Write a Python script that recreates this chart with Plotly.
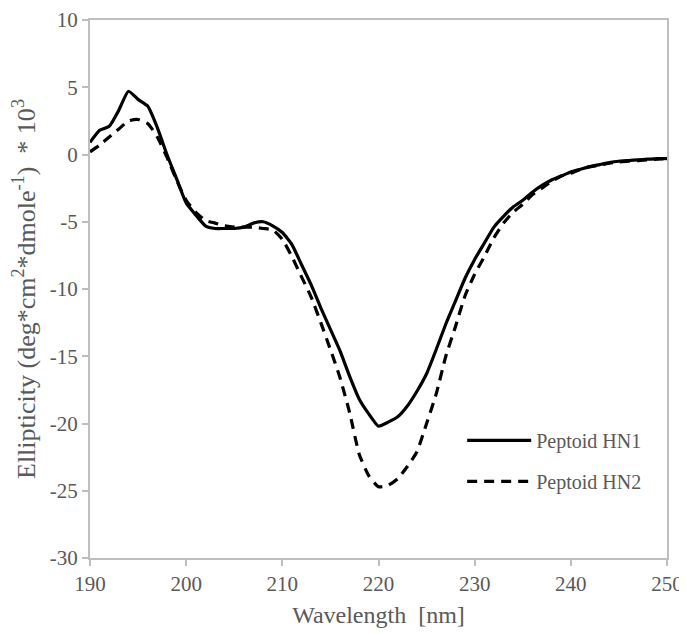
import plotly.graph_objects as go

wavelength = list(range(190, 251))

hn1 = [0.9, 1.8, 2.1, 3.3, 4.7, 4.1, 3.6, 2.0, 0.0, -1.8,
       -3.6, -4.5, -5.3, -5.5, -5.5, -5.5, -5.4, -5.1, -5.0, -5.3,
       -5.8, -6.7, -8.2, -9.7, -11.4, -13.0, -14.6, -16.5, -18.2, -19.3,
       -20.2, -19.9, -19.5, -18.7, -17.6, -16.3, -14.5, -12.6, -10.9, -9.2,
       -7.8, -6.6, -5.4, -4.6, -3.9, -3.4, -2.8, -2.3, -1.9, -1.6,
       -1.3, -1.1, -0.9, -0.75, -0.6, -0.5, -0.45, -0.4, -0.35, -0.3,
       -0.3]

hn2 = [0.2, 0.7, 1.3, 1.9, 2.5, 2.6, 2.3, 1.3, -0.2, -1.9,
       -3.4, -4.3, -4.9, -5.1, -5.3, -5.4, -5.4, -5.4, -5.5, -5.6,
       -6.3, -7.6, -9.1, -10.6, -12.5, -14.5, -16.6, -19.2, -22.3, -23.9,
       -24.7, -24.6, -24.1, -23.2, -22.1, -20.0, -17.8, -15.0, -12.8, -10.5,
       -8.9, -7.6, -6.2, -5.1, -4.3, -3.7, -3.0, -2.5, -2.0, -1.6,
       -1.4, -1.1, -0.9, -0.8, -0.65, -0.55, -0.5, -0.45, -0.4, -0.35,
       -0.3]

series_names = ["Peptoid HN1", "Peptoid HN2"]

x_ticks = [190, 200, 210, 220, 230, 240, 250]
y_ticks = [10, 5, 0, -5, -10, -15, -20, -25, -30]
y_tick_labels = ["10", "5", "0", "-5", "-10", "-15", "-20", "-25", "-30"]

FONT = "Liberation Serif, Times New Roman, serif"
GRAY = "#595959"
AXIS = "#bfbfbf"

fig = go.Figure()
fig.add_trace(go.Scatter(x=wavelength, y=hn1, mode="lines", name=series_names[0],
                         legendgroup="g1",
                         line=dict(color="black", width=3.2, shape="spline", smoothing=0.5)))
fig.add_trace(go.Scatter(x=wavelength, y=hn2, mode="lines", name=series_names[1],
                         legendgroup="g2",
                         line=dict(color="black", width=3.2, dash="10px,7px", shape="spline", smoothing=0.5)))

fig.update_layout(
    width=679, height=626,
    margin=dict(l=82, r=20, t=12, b=76, autoexpand=False),
    paper_bgcolor="white", plot_bgcolor="white",
    font=dict(family=FONT, size=21, color=GRAY),
    showlegend=True,
    legend=dict(x=0.645, y=0.255, xanchor="left", yanchor="top",
                bgcolor="rgba(0,0,0,0)",
                font=dict(family=FONT, size=20, color=GRAY),
                itemwidth=64, tracegroupgap=12),
)
fig.update_xaxes(
    range=[190, 250], tickvals=x_ticks, ticktext=[str(v) for v in x_ticks],
    showgrid=False, zeroline=False,
    showline=True, linecolor=AXIS, linewidth=2, mirror=True,
    ticks="outside", ticklen=6, tickcolor=AXIS, tickwidth=2,
    ticklabeloverflow="allow",
    tickfont=dict(family=FONT, size=21, color=GRAY),
    title=dict(text="Wavelength  [nm]", font=dict(family=FONT, size=24, color=GRAY), standoff=11),
)
fig.update_yaxes(
    range=[-30, 10], tickvals=y_ticks, ticktext=y_tick_labels,
    showgrid=False, zeroline=False,
    showline=True, linecolor=AXIS, linewidth=2, mirror=True,
    ticks="outside", ticklen=6, tickcolor=AXIS, tickwidth=2,
    ticklabeloverflow="allow",
    tickfont=dict(family=FONT, size=21, color=GRAY),
    title=dict(text="Ellipticity (deg*cm<sup>2</sup>*dmole<sup>-1</sup>)  * 10<sup>3</sup>",
               font=dict(family=FONT, size=26, color=GRAY), standoff=14),
)

fig.write_html("out.html")
